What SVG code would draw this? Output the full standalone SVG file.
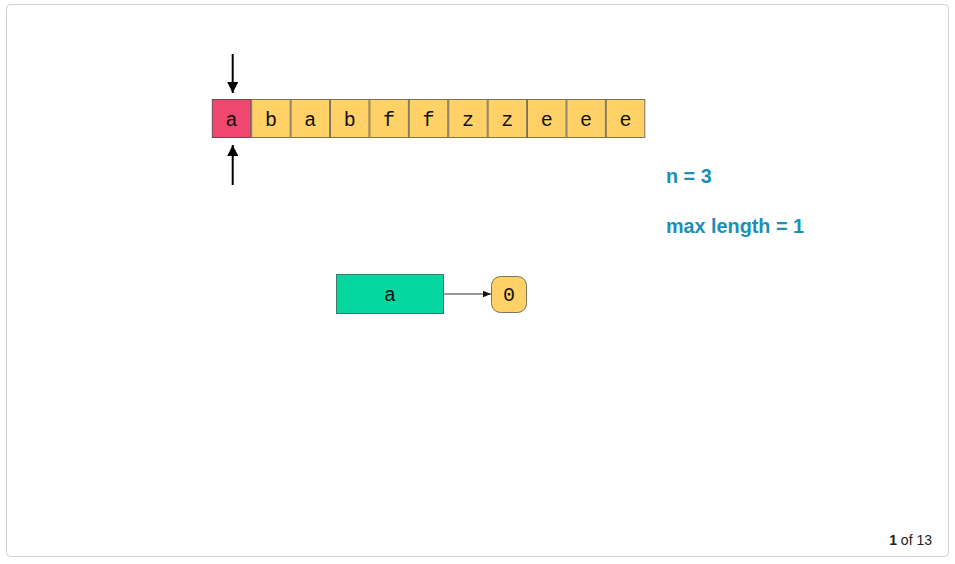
<svg xmlns="http://www.w3.org/2000/svg" width="955" height="564" viewBox="0 0 955 564">
<defs>
<style>
.frame{fill:#fff;stroke:#d0d0d0;stroke-width:1}
.cell{fill:#ffd166;stroke:#7a7355;stroke-width:1}
.cur{fill:#ef476f;stroke:#6b4a50;stroke-width:1}
.ct{font-family:"Liberation Mono","DejaVu Sans Mono",monospace;font-size:20px;fill:#111;text-anchor:middle}
.info{font-family:"Liberation Sans",Arial,sans-serif;font-size:19.8px;font-weight:bold;fill:#1b8fb5}
.ptr{stroke:#000;stroke-width:2;fill:none}
.edge{stroke:#333;stroke-width:1.2;fill:none}
</style>
<marker id="ah" viewBox="0 0 10 10" refX="10" refY="5" markerWidth="5.5" markerHeight="5.5" orient="auto" markerUnits="strokeWidth">
<path d="M0,0 L10,5 L0,10 z" fill="#000"/>
</marker>
<marker id="ah2" viewBox="0 0 10 10" refX="10" refY="5" markerWidth="7" markerHeight="7" orient="auto" markerUnits="strokeWidth">
<path d="M0,1 L10,5 L0,9 z" fill="#111"/>
</marker>
</defs>
<rect class="frame" x="6.5" y="4.5" width="942" height="552" rx="4"/>
<g id="array">
<g id="cell0"><rect class="cur" x="212.3" y="99.5" width="38.5" height="38"/><text class="ct" x="231.5" y="126">a</text></g>
<g id="cell1"><rect class="cell" x="251.7" y="99.5" width="38.5" height="38"/><text class="ct" x="270.9" y="126">b</text></g>
<g id="cell2"><rect class="cell" x="291.1" y="99.5" width="38.5" height="38"/><text class="ct" x="310.3" y="126">a</text></g>
<g id="cell3"><rect class="cell" x="330.5" y="99.5" width="38.5" height="38"/><text class="ct" x="349.7" y="126">b</text></g>
<g id="cell4"><rect class="cell" x="369.9" y="99.5" width="38.5" height="38"/><text class="ct" x="389.1" y="126">f</text></g>
<g id="cell5"><rect class="cell" x="409.3" y="99.5" width="38.5" height="38"/><text class="ct" x="428.5" y="126">f</text></g>
<g id="cell6"><rect class="cell" x="448.7" y="99.5" width="38.5" height="38"/><text class="ct" x="467.9" y="126">z</text></g>
<g id="cell7"><rect class="cell" x="488.1" y="99.5" width="38.5" height="38"/><text class="ct" x="507.3" y="126">z</text></g>
<g id="cell8"><rect class="cell" x="527.5" y="99.5" width="38.5" height="38"/><text class="ct" x="546.7" y="126">e</text></g>
<g id="cell9"><rect class="cell" x="566.9" y="99.5" width="38.5" height="38"/><text class="ct" x="586.1" y="126">e</text></g>
<g id="cell10"><rect class="cell" x="606.3" y="99.5" width="38.5" height="38"/><text class="ct" x="625.5" y="126">e</text></g>
</g>
<g id="connectors">
<line class="ptr" x1="232.7" y1="54" x2="232.7" y2="93" marker-end="url(#ah)"/>
<line class="ptr" x1="232.7" y1="185" x2="232.7" y2="145" marker-end="url(#ah)"/>
<line class="edge" x1="444" y1="294" x2="491" y2="294" marker-end="url(#ah2)"/>
</g>
<g id="info">
<text class="info" x="666" y="183">n = 3</text>
<text class="info" x="666" y="233">max length = 1</text>
</g>
<g id="key">
<rect x="336.5" y="274.5" width="107" height="39" fill="#06d6a0" stroke="#3d7a68" stroke-width="1"/>
<text class="ct" x="390" y="301">a</text>
</g>
<g id="value">
<rect x="491.5" y="276.5" width="35" height="36" rx="9" fill="#ffd166" stroke="#7a7355" stroke-width="1"/>
<text class="ct" x="509" y="301">0</text>
</g>
<text x="932" y="545" font-family="'Liberation Sans',Arial,sans-serif" font-size="14" fill="#222" text-anchor="end"><tspan font-weight="bold">1</tspan> of 13</text>
</svg>
